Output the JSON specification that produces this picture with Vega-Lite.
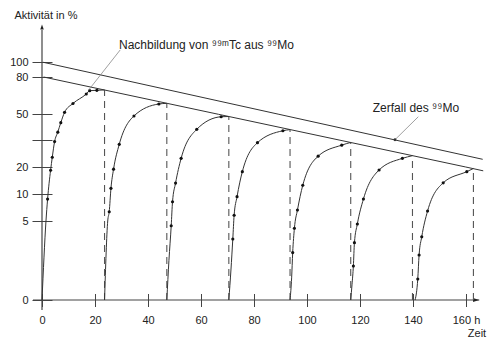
{
  "$schema": "https://vega.github.io/schema/vega-lite/v6.json",
  "width": 424,
  "height": 290,
  "autosize": {"type": "none"},
  "padding": {"left": 42, "top": 10, "right": 21, "bottom": 38},
  "background": "white",
  "config": {"view": {"stroke": null}, "font": "Liberation Sans"},
  "datasets": {
    "curves": [
      {"c": 1, "h": 0, "v": 0}, {"c": 1, "h": 1.5, "v": 5}, {"c": 1, "h": 2.11, "v": 9.1}, {"c": 1, "h": 3.24, "v": 18.8}, {"c": 1, "h": 3.88, "v": 23.6}, {"c": 1, "h": 4.75, "v": 29.4}, {"c": 1, "h": 5.96, "v": 36.1}, {"c": 1, "h": 7.09, "v": 43.5}, {"c": 1, "h": 8.52, "v": 51.6}, {"c": 1, "h": 11.69, "v": 58.7}, {"c": 1, "h": 16.7, "v": 66.3}, {"c": 1, "h": 18.0, "v": 69.0}, {"c": 1, "h": 20.7, "v": 69.3}, {"c": 1, "h": 23.6, "v": 69.6},
      {"c": 2, "h": 23.6, "v": 0}, {"c": 2, "h": 24.8, "v": 5}, {"c": 2, "h": 25.37, "v": 6.74}, {"c": 2, "h": 26.02, "v": 12.2}, {"c": 2, "h": 27.0, "v": 19.2}, {"c": 2, "h": 29.15, "v": 28.4}, {"c": 2, "h": 34.7, "v": 48.7}, {"c": 2, "h": 44.1, "v": 58.3}, {"c": 2, "h": 47.1, "v": 58.8},
      {"c": 3, "h": 47.1, "v": 0}, {"c": 3, "h": 47.9, "v": 2.5}, {"c": 3, "h": 48.76, "v": 4.7}, {"c": 3, "h": 49.25, "v": 8.6}, {"c": 3, "h": 50.4, "v": 14.1}, {"c": 3, "h": 52.5, "v": 23.2}, {"c": 3, "h": 58.4, "v": 38.3}, {"c": 3, "h": 67.6, "v": 48.1}, {"c": 3, "h": 70.5, "v": 48.3},
      {"c": 4, "h": 70.5, "v": 0}, {"c": 4, "h": 71.3, "v": 1.9}, {"c": 4, "h": 72.0, "v": 3.86}, {"c": 4, "h": 72.5, "v": 6.07}, {"c": 4, "h": 73.6, "v": 9.55}, {"c": 4, "h": 75.6, "v": 18.3}, {"c": 4, "h": 81.3, "v": 29.0}, {"c": 4, "h": 90.9, "v": 37.2}, {"c": 4, "h": 93.6, "v": 38.1},
      {"c": 5, "h": 93.6, "v": 0}, {"c": 5, "h": 94.2, "v": 1.4}, {"c": 5, "h": 94.6, "v": 3.0}, {"c": 5, "h": 95.25, "v": 4.54}, {"c": 5, "h": 96.4, "v": 7.06}, {"c": 5, "h": 98.4, "v": 13.3}, {"c": 5, "h": 104.2, "v": 24.0}, {"c": 5, "h": 113.1, "v": 28.1}, {"c": 5, "h": 116.5, "v": 29.1},
      {"c": 6, "h": 116.5, "v": 0}, {"c": 6, "h": 117.0, "v": 1.0}, {"c": 6, "h": 117.5, "v": 2.15}, {"c": 6, "h": 117.9, "v": 3.63}, {"c": 6, "h": 119.0, "v": 4.81}, {"c": 6, "h": 121.3, "v": 9.12}, {"c": 6, "h": 127.2, "v": 18.9}, {"c": 6, "h": 136.0, "v": 23.2}, {"c": 6, "h": 139.8, "v": 24.2},
      {"c": 7, "h": 140.8, "v": 0}, {"c": 7, "h": 141.8, "v": 1.33}, {"c": 7, "h": 142.3, "v": 2.85}, {"c": 7, "h": 143.3, "v": 4.0}, {"c": 7, "h": 145.5, "v": 6.87}, {"c": 7, "h": 151.4, "v": 14.2}, {"c": 7, "h": 160.3, "v": 18.3}, {"c": 7, "h": 162.8, "v": 19.45}
    ],
    "dots": [
      {"h": 2.11, "v": 9.1}, {"h": 3.24, "v": 18.8}, {"h": 3.88, "v": 23.6}, {"h": 4.75, "v": 29.4}, {"h": 5.96, "v": 36.1}, {"h": 7.09, "v": 43.5}, {"h": 8.52, "v": 51.6}, {"h": 11.69, "v": 58.7}, {"h": 16.7, "v": 66.3}, {"h": 18.0, "v": 69.0}, {"h": 20.7, "v": 69.3},
      {"h": 25.37, "v": 6.74}, {"h": 26.02, "v": 12.2}, {"h": 27.0, "v": 19.2}, {"h": 29.15, "v": 28.4}, {"h": 34.7, "v": 48.7}, {"h": 44.1, "v": 58.3},
      {"h": 48.76, "v": 4.7}, {"h": 49.25, "v": 8.6}, {"h": 50.4, "v": 14.1}, {"h": 52.5, "v": 23.2}, {"h": 58.4, "v": 38.3}, {"h": 67.6, "v": 48.1},
      {"h": 72.0, "v": 3.86}, {"h": 72.5, "v": 6.07}, {"h": 73.6, "v": 9.55}, {"h": 75.6, "v": 18.3}, {"h": 81.3, "v": 29.0}, {"h": 90.9, "v": 37.2},
      {"h": 94.6, "v": 3.0}, {"h": 95.25, "v": 4.54}, {"h": 96.4, "v": 7.06}, {"h": 98.4, "v": 13.3}, {"h": 104.2, "v": 24.0}, {"h": 113.1, "v": 28.1},
      {"h": 117.5, "v": 2.15}, {"h": 117.9, "v": 3.63}, {"h": 119.0, "v": 4.81}, {"h": 121.3, "v": 9.12}, {"h": 127.2, "v": 18.9}, {"h": 136.0, "v": 23.2},
      {"h": 141.8, "v": 1.33}, {"h": 142.3, "v": 2.85}, {"h": 143.3, "v": 4.0}, {"h": 145.5, "v": 6.87}, {"h": 151.4, "v": 14.2}, {"h": 160.3, "v": 18.3}
    ],
    "dashed": [
      {"h": 23.6, "v": 0, "v2": 69.6}, {"h": 47.1, "v": 0, "v2": 58.8}, {"h": 70.5, "v": 0, "v2": 48.3}, {"h": 93.6, "v": 0, "v2": 38.1}, {"h": 116.5, "v": 0, "v2": 29.1}, {"h": 139.8, "v": 0, "v2": 24.2}, {"h": 162.8, "v": 0, "v2": 19.45}
    ],
    "decay": [
      {"line": "oben", "h": 0.5, "v": 100}, {"line": "oben", "h": 25.7, "v": 80}, {"line": "oben", "h": 89.4, "v": 50}, {"line": "oben", "h": 133.3, "v": 30}, {"line": "oben", "h": 166.3, "v": 22.85},
      {"line": "unten", "h": 0.6, "v": 80}, {"line": "unten", "h": 66.6, "v": 50}, {"line": "unten", "h": 112.1, "v": 30}, {"line": "unten", "h": 159.9, "v": 20}, {"line": "unten", "h": 166.5, "v": 18.6}
    ],
    "axislines": [
      {"h": -3.4, "v": 0, "h2": 165, "v2": 0},
      {"h": 0, "v": -1, "h2": 0, "v2": 140}
    ],
    "leaders": [
      {"h": 29.5, "v": 115.3, "h2": 17.6, "v2": 69.5, "k": "a"},
      {"h": 142.0, "v": 48.1, "h2": 133.2, "v2": 30.2, "k": "b"}
    ]
  },
  "encoding": {
    "x": {
      "field": "h", "type": "quantitative",
      "scale": {"domain": [0, 160], "nice": false, "zero": false},
      "axis": {
        "values": [0, 20, 40, 60, 80, 100, 120, 140, 160],
        "domain": false, "grid": false, "offset": -6.5, "tickSize": 13, "tickColor": "#444", "tickWidth": 1,
        "labelPadding": 8, "labelFontSize": 11, "labelColor": "#222", "labelFlush": false, "labelOverlap": false,
        "labelExpr": "datum.value == 160 ? '160 h' : datum.label",
        "title": "Zeit", "titleX": 434.5, "titleY": 40, "titleAlign": "center", "titleBaseline": "middle",
        "titleFontWeight": "normal", "titleFontSize": 11, "titleColor": "#222"
      }
    },
    "y": {
      "field": "v", "type": "quantitative",
      "scale": {"domain": [-1, 0, 5, 10, 20, 30, 50, 80, 100, 150], "range": [300, 290, 211, 184.3, 157, 130, 104.3, 67, 52.3, 12], "nice": false, "zero": false},
      "axis": {
        "values": [0, 5, 10, 20, 30, 50, 80, 100],
        "domain": false, "grid": false, "offset": -10, "tickSize": 20, "tickColor": "#444", "tickWidth": 1,
        "labelPadding": 4, "labelFontSize": 11, "labelColor": "#222", "labelOverlap": false, "labelFlush": false,
        "labelExpr": "datum.value == 30 ? '' : datum.label",
        "title": "Aktivität in %", "titleAngle": 0, "titleAlign": "left", "titleBaseline": "middle",
        "titleX": -38, "titleY": 5, "titleFontWeight": "normal", "titleFontSize": 11, "titleColor": "#222"
      }
    }
  },
  "layer": [
    {
      "data": {"name": "axislines"},
      "mark": {"type": "rule", "color": "#444", "strokeWidth": 1.2, "clip": false},
      "encoding": {"x2": {"field": "h2"}, "y2": {"field": "v2"}}
    },
    {
      "data": {"values": [{"h": 0, "v": 143.8}]},
      "mark": {"type": "point", "shape": "M-0.35,0.5L0,-0.5L0.35,0.5Z", "size": 100, "filled": true, "color": "#222", "opacity": 1, "clip": false},
      "encoding": {}
    },
    {
      "data": {"values": [{"h": 163.8, "v": 0}]},
      "mark": {"type": "point", "shape": "M-0.5,-0.33L0.5,0L-0.5,0.33Z", "size": 144, "filled": true, "color": "#222", "opacity": 1, "clip": false},
      "encoding": {}
    },
    {
      "data": {"name": "decay"},
      "mark": {"type": "line", "color": "#333", "strokeWidth": 1, "clip": false},
      "encoding": {"detail": {"field": "line"}}
    },
    {
      "data": {"name": "dashed"},
      "mark": {"type": "rule", "color": "#555", "strokeWidth": 1.1, "strokeDash": [7, 5], "clip": false},
      "encoding": {"y2": {"field": "v2"}}
    },
    {
      "data": {"name": "curves"},
      "mark": {"type": "line", "color": "#333", "strokeWidth": 1, "interpolate": "monotone", "clip": false},
      "encoding": {"detail": {"field": "c"}}
    },
    {
      "data": {"name": "dots"},
      "mark": {"type": "circle", "color": "#111", "size": 10, "opacity": 1, "clip": false},
      "encoding": {}
    },
    {
      "data": {"name": "leaders"},
      "mark": {"type": "rule", "color": "#888", "strokeWidth": 0.8, "clip": false},
      "encoding": {"x2": {"field": "h2"}, "y2": {"field": "v2"}}
    },
    {
      "data": {"values": [{"h": 133.2, "v": 30.2}]},
      "mark": {"type": "circle", "color": "#333", "size": 8, "opacity": 1, "clip": false},
      "encoding": {}
    },
    {
      "data": {"values": [{"h": 29.06, "v": 121.5, "t": "Nachbildung von ⁹⁹ᵐTc aus ⁹⁹Mo"}]},
      "mark": {"type": "text", "align": "left", "baseline": "middle", "fontSize": 12, "color": "#222", "clip": false},
      "encoding": {"text": {"field": "t"}}
    },
    {
      "data": {"values": [{"h": 141.1, "v": 55.1, "t": "Zerfall des ⁹⁹Mo"}]},
      "mark": {"type": "text", "align": "center", "baseline": "middle", "fontSize": 12, "color": "#222", "clip": false},
      "encoding": {"text": {"field": "t"}}
    }
  ]
}
